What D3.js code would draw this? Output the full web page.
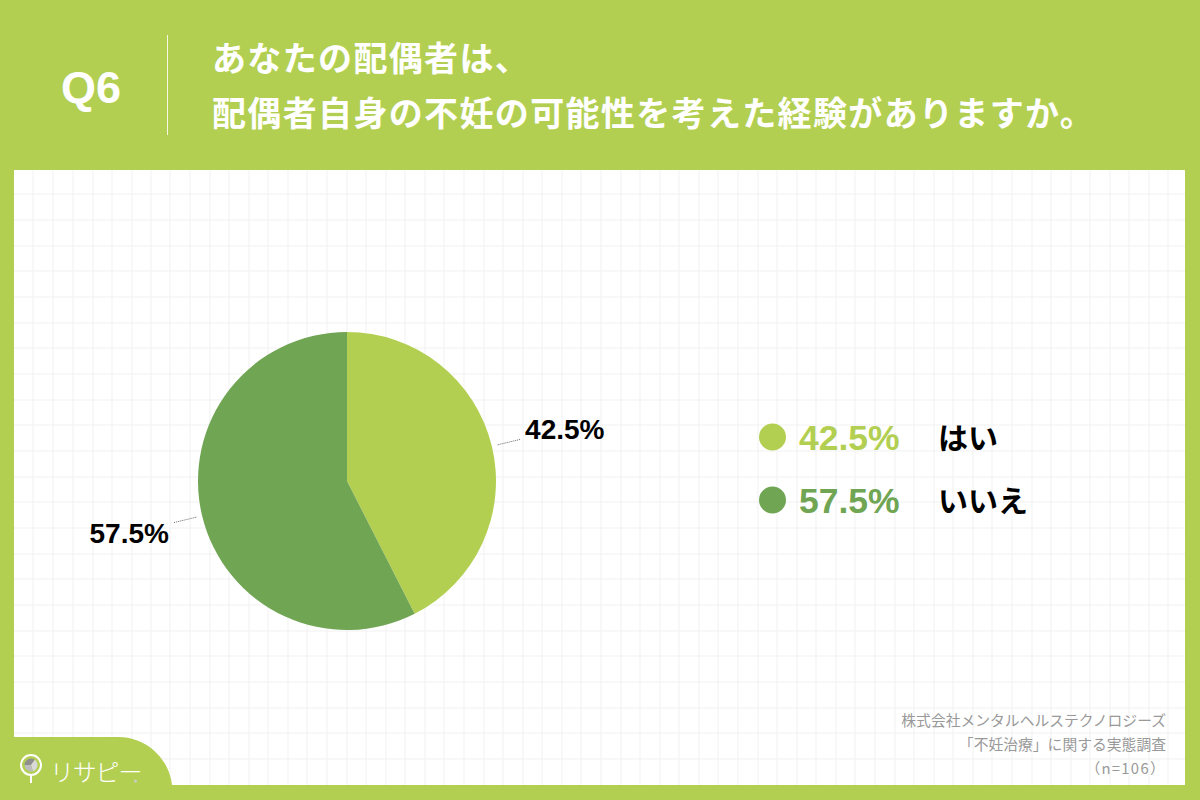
<!DOCTYPE html>
<html>
<head>
<meta charset="utf-8">
<script src="https://cdn.jsdelivr.net/npm/d3@7"></script>
<style>
  html, body { margin: 0; padding: 0; background: #fff; }
  svg { display: block; }
  text { font-family: "Liberation Sans", "Noto Sans CJK JP", sans-serif; }
  .jp { font-family: "Noto Sans CJK JP", sans-serif; }
</style>
</head>
<body>
<svg id="chart" width="1200" height="800"></svg>
<script>
var categories = ['はい', 'いいえ']
var values = [42.5, 57.5]
var colors = ['#b3cf52', '#70a553']
var title_lines = ['あなたの配偶者は、', '配偶者自身の不妊の可能性を考えた経験がありますか。']
var source_lines = ['株式会社メンタルヘルステクノロジーズ', '「不妊治療」に関する実態調査', '（n=106）']
var grid_x = [33, 53, 73, 93, 112, 132, 151, 170, 190, 210, 229, 249, 268, 288, 307, 327, 347, 366, 386, 405, 425, 444, 464, 484, 503, 523, 542, 562, 581, 601, 621, 640, 660, 679, 699, 718, 738, 758, 777, 797, 816, 836, 855, 875, 895, 914, 934, 953, 973, 992, 1012, 1032, 1051, 1071, 1090, 1110, 1129, 1149, 1168]
var grid_y = [194, 220, 246, 271, 297, 323, 348, 374, 400, 425, 451, 477, 502, 528, 554, 579, 605, 631, 656, 682, 708, 733, 759]
var logo_slices = [35, 35, 30]
var logo_colors = ['#8f8f8f', '#d9d9d9', '#bdbdbd']

var svg = d3.select('#chart')
var green = colors[0]

function draw_frame(){
  svg.append('rect').attr('width', 1200).attr('height', 800).attr('fill', green)
  svg.append('rect').attr('x', 14).attr('y', 170).attr('width', 1171).attr('height', 615).attr('fill', '#fff')

  svg.selectAll('.gx').data(grid_x).enter().append('line')
    .attr('x1', d => d).attr('x2', d => d).attr('y1', 170).attr('y2', 785)
    .attr('stroke', '#f1f1f1').attr('stroke-width', 1)
  svg.selectAll('.gy').data(grid_y).enter().append('line')
    .attr('x1', 14).attr('x2', 1185).attr('y1', d => d).attr('y2', d => d)
    .attr('stroke', '#f1f1f1').attr('stroke-width', 1)

  svg.append('line').attr('x1', 167.5).attr('x2', 167.5).attr('y1', 35).attr('y2', 135)
    .attr('stroke', '#fff').attr('stroke-opacity', 0.85).attr('stroke-width', 1)

  svg.append('text').text('Q6').attr('x', 91).attr('y', 103)
    .attr('text-anchor', 'middle').attr('fill', '#fff')
    .style('font-size', '45px').style('font-weight', 700)

  svg.selectAll('.title').data(title_lines).enter().append('text')
    .attr('class', 'jp').text(d => d)
    .attr('x', 212).attr('y', (d, i) => 71 + i * 55)
    .attr('fill', '#fff')
    .style('font-size', '34px').style('font-weight', 700).style('letter-spacing', '1.35px')
}

function draw_pie(){
  var cx = 347, cy = 481, r = 149
  var pie = d3.pie().sort(null).value(d => d)
  var arcs = pie(values)
  var g = svg.append('g').attr('transform', 'translate(' + cx + ',' + cy + ')')

  g.selectAll('path').data(arcs).enter().append('path')
    .attr('d', d3.arc().innerRadius(0).outerRadius(r))
    .attr('fill', (d, i) => colors[i])

  var lead_in = d3.arc().innerRadius(155).outerRadius(155)
  var lead_out = d3.arc().innerRadius(178).outerRadius(178)
  g.selectAll('.lead').data(arcs).enter().append('line')
    .attr('x1', d => lead_in.centroid(d)[0]).attr('y1', d => lead_in.centroid(d)[1])
    .attr('x2', d => lead_out.centroid(d)[0]).attr('y2', d => lead_out.centroid(d)[1])
    .attr('stroke', '#666').attr('stroke-width', 1).attr('stroke-dasharray', '1 1')

  var label_arc = d3.arc().innerRadius(224).outerRadius(224)
  g.selectAll('.pct').data(arcs).enter().append('text')
    .text(d => d.data.toFixed(1) + '%')
    .attr('x', d => label_arc.centroid(d)[0])
    .attr('y', d => label_arc.centroid(d)[1] + 10)
    .attr('text-anchor', 'middle').attr('fill', '#000')
    .style('font-size', '28px').style('font-weight', 700)
}

function draw_legend(){
  var y = d3.scalePoint().domain(categories).range([437, 500])
  var rows = svg.selectAll('.legend').data(categories).enter().append('g')
    .attr('transform', d => 'translate(0,' + y(d) + ')')

  rows.append('circle').attr('cx', 772.5).attr('cy', 0).attr('r', 13.5)
    .attr('fill', (d, i) => colors[i])
  rows.append('text').text((d, i) => values[i].toFixed(1) + '%')
    .attr('x', 799).attr('y', 13).attr('fill', (d, i) => colors[i])
    .style('font-size', '35.5px').style('font-weight', 700)
  rows.append('text').attr('class', 'jp').text(d => d)
    .attr('x', 938).attr('y', 12).attr('fill', '#000')
    .style('font-size', '30px').style('font-weight', 700)
}

function draw_footer(){
  svg.selectAll('.src').data(source_lines).enter().append('text')
    .attr('class', 'jp').text(d => d)
    .attr('x', 1166).attr('y', (d, i) => 726 + i * 24)
    .attr('text-anchor', 'end').attr('fill', '#999')
    .style('font-size', '14.8px')
    .style('letter-spacing', (d, i) => i == 2 ? '1.3px' : null)

  // logo tab
  svg.append('path')
    .attr('d', 'M14,737 H118 A54,54 0 0 1 172,785 H14 Z')
    .attr('fill', green)

  var logo = svg.append('g').attr('transform', 'translate(31,765)')
  logo.append('circle').attr('r', 10).attr('fill', 'none').attr('stroke', '#fff').attr('stroke-width', 2)
  logo.append('line').attr('y1', 10).attr('y2', 18).attr('stroke', '#fff').attr('stroke-width', 2)
  logo.selectAll('path').data(d3.pie().sort(null).startAngle(-Math.PI / 2).endAngle(Math.PI * 1.5)(logo_slices)).enter().append('path')
    .attr('d', d3.arc().innerRadius(0).outerRadius(6.5))
    .attr('fill', (d, i) => logo_colors[i])
  svg.append('text').attr('class', 'jp').text('リサピー')
    .attr('x', 50).attr('y', 781).attr('fill', '#fff')
    .style('font-size', '24px').style('font-weight', 300).style('letter-spacing', '-1.2px')
  svg.append('circle').attr('cx', 135.5).attr('cy', 781).attr('r', 1.5).attr('fill', '#ccc')
}

draw_frame()
draw_pie()
draw_legend()
draw_footer()
</script>
</body>
</html>
